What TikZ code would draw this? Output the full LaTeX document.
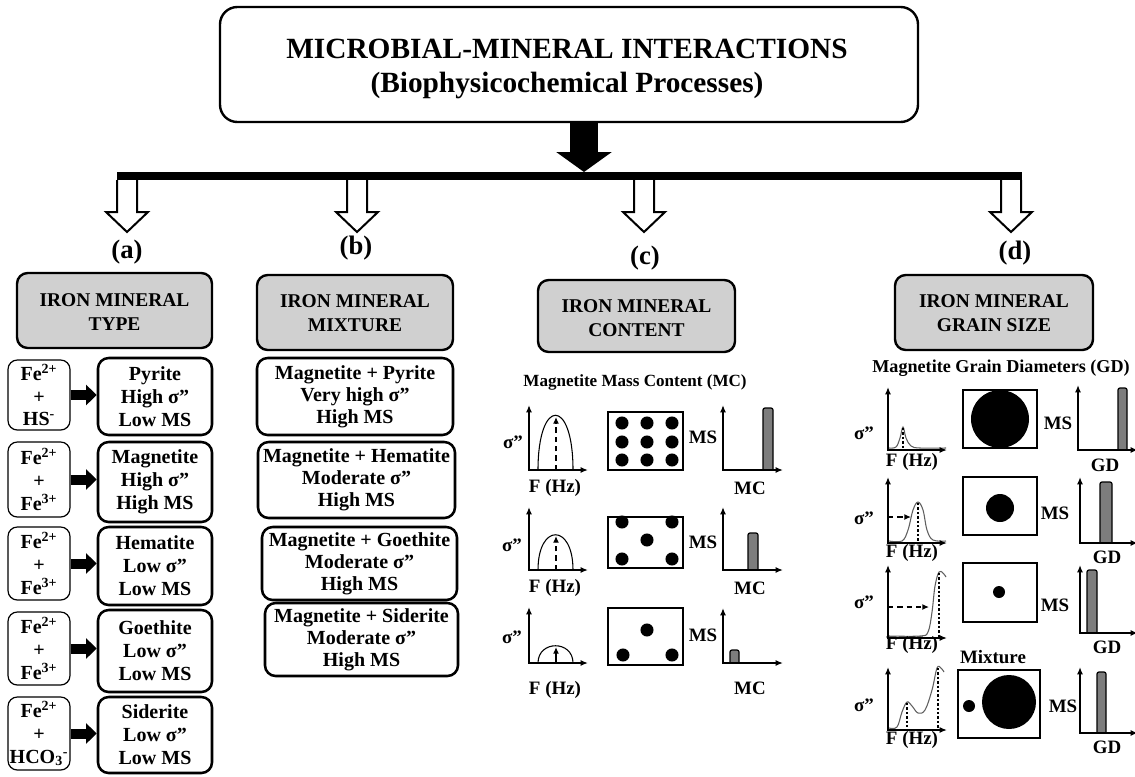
\documentclass[tikz,border=0pt]{standalone}
\usepackage{fontspec}
\setmainfont{Liberation Serif}
\usetikzlibrary{arrows.meta,fit,calc}
\definecolor{hdr}{RGB}{208,208,208}
\definecolor{barg}{RGB}{125,125,125}
\definecolor{crv}{RGB}{95,95,95}
\newcommand\HArrow[1]{\draw[harrow] ([xshift=-7.5pt]#1) -- ++(0pt,-24pt) -- ++(-8.25pt,0pt) -- ++(15.75pt,-15pt) -- ++(15.75pt,15pt) -- ++(-8.25pt,0pt) -- ++(0pt,24pt);}
\newcommand\sig{σ''}
\begin{document}
\begin{tikzpicture}[x=0.75pt,y=-0.75pt,
  every node/.style={font=\bfseries},
  topbox/.style={draw, line width=1.8pt, rounded corners=13pt, inner sep=0pt},
  hdrbox/.style={draw, fill=hdr, line width=1.8pt, rounded corners=8pt, inner sep=0pt},
  resbox/.style={draw, line width=1.9pt, rounded corners=8pt, inner sep=0pt},
  ionbox/.style={draw, line width=0.9pt, rounded corners=7pt, inner sep=0pt},
  mixbox/.style={draw, line width=1.9pt, rounded corners=8pt, inner sep=0pt},
  toptext/.style={font=\bfseries\fontsize{22}{25}\selectfont, align=center, inner sep=0pt},
  hdrtext/.style={font=\bfseries\fontsize{14.6}{18.5}\selectfont, align=center, inner sep=0pt},
  boxtext/.style={font=\bfseries\fontsize{15}{17.2}\selectfont, align=center, inner sep=0pt},
  iontext/.style={font=\bfseries\fontsize{15}{17.2}\selectfont, align=center, inner sep=0pt},
  mixtext/.style={font=\bfseries\fontsize{15}{16.6}\selectfont, align=center, inner sep=0pt},
  panel/.style={font=\bfseries\fontsize{20}{22}\selectfont, inner sep=0pt},
  lbl/.style={font=\bfseries\fontsize{14.2}{16}\selectfont, inner sep=0pt},
  ttl/.style={font=\bfseries\fontsize{12.8}{15}\selectfont, inner sep=0pt},
  axis/.style={line width=1.1pt, {Latex[length=5.5pt,width=4.5pt]}-{Latex[length=5.5pt,width=4.5pt]}},
  harrow/.style={line width=1.5pt, fill=white, line join=miter},
  barrow/.style={line width=7.5pt, -{Triangle[length=8pt,width=15pt]}},
  dotbox/.style={draw, line width=0.9pt, inner sep=0pt},
  dot/.style={fill=black},
  barf/.style={draw, fill=barg, line width=0.9pt, rounded corners=1.5pt},
  crvline/.style={draw=crv, line width=0.8pt},
  dotl/.style={line width=1.8pt, dash pattern=on 1.8pt off 1.5pt},
  dsh/.style={line width=1.2pt, dash pattern=on 4pt off 3pt, -{Latex[length=5pt,width=4.5pt]}}
]
\useasboundingbox (0,0) rectangle (1135,776);

% ---------------- top ----------------
\node[topbox, fit={(220,7) (918,122)}] (top) {};
\node[toptext] (toptxt) at (567,69) {MICROBIAL-MINERAL INTERACTIONS\\(Biophysicochemical Processes)};
\coordinate (barL) at (117,176);
\coordinate (barR) at (1022,176);
\coordinate (barC) at (584,172);
\draw[line width=21pt, -{Triangle[length=15pt,width=41pt]}] (top.south -| barC) -- (barC);
\draw[line width=6pt] (barL) -- (barR);

\coordinate (ha) at (127,180);
\coordinate (hb) at (357,180);
\coordinate (hc) at (644,180);
\coordinate (hd) at (1011,180);
\HArrow{ha}\HArrow{hb}\HArrow{hc}\HArrow{hd}

\node[panel] (pa) at (127,252) {(a)};
\node[panel] (pb) at (356,248) {(b)};
\node[panel] (pc) at (645,258) {(c)};
\node[panel] (pd) at (1015,253) {(d)};

% ---------------- (a) ----------------
\node[hdrbox, fit={(17,273) (212,348)}] (ha1) {};
\node[hdrtext] (ha1t) at (114.5,312) {IRON MINERAL\\TYPE};

\node[ionbox, fit={(8,360) (70,430)}] (l1) {};
\node[ionbox, fit={(8,442) (70,517)}] (l2) {};
\node[ionbox, fit={(8,527) (70,600)}] (l3) {};
\node[ionbox, fit={(8,612) (70,685)}] (l4) {};
\node[ionbox, fit={(8,697) (70,770)}] (l5) {};
\node[iontext] (l1t) at (l1) {Fe\textsuperscript{2+}\\+\\HS\textsuperscript{-}};
\node[iontext] (l2t) at (l2) {Fe\textsuperscript{2+}\\+\\Fe\textsuperscript{3+}};
\node[iontext] (l3t) at (l3) {Fe\textsuperscript{2+}\\+\\Fe\textsuperscript{3+}};
\node[iontext] (l4t) at (l4) {Fe\textsuperscript{2+}\\+\\Fe\textsuperscript{3+}};
\node[iontext] (l5t) at (l5) {Fe\textsuperscript{2+}\\+\\HCO\textsubscript{3}\textsuperscript{-}};

\node[resbox, fit={(98,358) (212,435)}] (r1) {};
\node[resbox, fit={(98,442) (212,522)}] (r2) {};
\node[resbox, fit={(98,527) (212,605)}] (r3) {};
\node[resbox, fit={(98,610) (212,692)}] (r4) {};
\node[resbox, fit={(98,697) (212,773)}] (r5) {};
\node[boxtext] (r1t) at (r1) {Pyrite\\High \sig\\Low MS};
\node[boxtext] (r2t) at (r2) {Magnetite\\High \sig\\High MS};
\node[boxtext] (r3t) at (r3) {Hematite\\Low \sig\\Low MS};
\node[boxtext] (r4t) at (r4) {Goethite\\Low \sig\\Low MS};
\node[boxtext] (r5t) at (r5) {Siderite\\Low \sig\\Low MS};

\foreach \i in {1,...,5}{
  \draw[barrow] (l\i.east) -- (l\i.east -| r\i.west);
}

% ---------------- (b) ----------------
\node[hdrbox, fit={(257,275) (453,350)}] (hb1) {};
\node[hdrtext] (hb1t) at (355,313) {IRON MINERAL\\MIXTURE};
\node[mixbox, fit={(257,358) (453,435)}] (m1) {};
\node[mixbox, fit={(258,442) (455,518)}] (m2) {};
\node[mixbox, fit={(262,527) (457,600)}] (m3) {};
\node[mixbox, fit={(265,603) (458,676)}] (m4) {};
\node[mixtext] (m1t) at (m1) {Magnetite + Pyrite\\Very high \sig\\High MS};
\node[mixtext] (m2t) at (m2) {Magnetite + Hematite\\Moderate \sig\\High MS};
\node[mixtext] (m3t) at (m3) {Magnetite + Goethite\\Moderate \sig\\High MS};
\node[mixtext] (m4t) at (m4) {Magnetite + Siderite\\Moderate \sig\\High MS};

% ---------------- (c) ----------------
\node[hdrbox, fit={(538,280) (735,352)}] (hc1) {};
\node[hdrtext] (hc1t) at (636.5,318) {IRON MINERAL\\CONTENT};
\node[ttl] (ctitle) at (635,382) {Magnetite Mass Content (MC)};

% row 1
\draw[line width=0.8pt] (538,470) .. controls (538,397) and (573,397) .. (573,470);
\draw[dsh, line width=1.4pt] (556,470) -- (556,417);
\draw[axis] (529,405) -- (529,470) -- (588,470);
\node[lbl] (c1s) at (513,442) {\sig};
\node[lbl] (c1f) at (555,488) {F (Hz)};
\node[dotbox, fit={(608,412) (683,470)}] (c1b) {};
\foreach \x in {622,647,672}{\foreach \y in {423,442,460}{\fill[dot] (\x,\y) circle[radius=4.9pt];}}
\node[lbl] (c1m) at (703,437) {MS};
\draw[barf] (763,470) -- (763,408) -- (773,408) -- (773,470);
\draw[axis] (723,405) -- (723,470) -- (783,470);
\node[lbl] (c1c) at (750,488) {MC};

% row 2
\draw[line width=0.8pt] (538,570) .. controls (538,523) and (573,523) .. (573,570);
\draw[dsh] (556,570) -- (556,536);
\draw[axis] (529,507) -- (529,570) -- (588,570);
\node[lbl] (c2s) at (512,545) {\sig};
\node[lbl] (c2f) at (555,588) {F (Hz)};
\node[dotbox, fit={(608,517) (683,568)}] (c2b) {};
\foreach \p in {(622,522),(672,522),(647,540),(622,559),(672,559)}{\fill[dot] \p circle[radius=4.9pt];}
\node[lbl] (c2m) at (703,542) {MS};
\draw[barf] (748,570) -- (748,533) -- (758,533) -- (758,570);
\draw[axis] (723,507) -- (723,570) -- (783,570);
\node[lbl] (c2c) at (750,588) {MC};

% row 3
\draw[line width=0.8pt] (538,663) .. controls (538,640) and (573,640) .. (573,663);
\draw[line width=1.1pt, -{Latex[length=5pt,width=4.5pt]}] (556,663) -- (556,647);
\draw[axis] (529,607) -- (529,663) -- (588,663);
\node[lbl] (c3s) at (512,637) {\sig};
\node[lbl] (c3f) at (555,690) {F (Hz)};
\node[dotbox, fit={(608,608) (683,665)}] (c3b) {};
\foreach \p in {(647,630),(623,655),(672,655)}{\fill[dot] \p circle[radius=4.9pt];}
\node[lbl] (c3m) at (703,635) {MS};
\draw[barf] (730,663) -- (730,650) -- (739,650) -- (739,663);
\draw[axis] (723,608) -- (723,663) -- (783,663);
\node[lbl] (c3c) at (750,688) {MC};

% ---------------- (d) ----------------
\node[hdrbox, fit={(895,275) (1093,350)}] (hd1) {};
\node[hdrtext] (hd1t) at (994,313) {IRON MINERAL\\GRAIN SIZE};
\node[font=\bfseries\fontsize{13.6}{15}\selectfont, inner sep=0pt] (dtitle) at (1001,368) {Magnetite Grain Diameters (GD)};

% row 1
\draw[crvline] plot[smooth, tension=0.6] coordinates {(889,448) (896,447) (900,438) (903,427) (906,438) (911,446) (920,448) (946,448)};
\draw[dotl] (903,428) -- (903,450);
\draw[axis] (888,387) -- (888,450) -- (947,450);
\node[lbl] (d1s) at (864,433) {\sig};
\node[lbl] (d1f) at (912,462) {F (Hz)};
\node[dotbox, fit={(963,390) (1037,448)}] (d1b) {};
\fill[dot] (1000,419) circle[radius=21.75pt];
\node[lbl] (d1m) at (1058,423) {MS};
\draw[barf] (1118,450) -- (1118,388) -- (1127,388) -- (1127,450);
\draw[axis] (1078,385) -- (1078,450) -- (1138,450);
\node[lbl] (d1g) at (1105,465) {GD};

% row 2
\draw[crvline] plot[smooth, tension=0.6] coordinates {(889,541) (902,541) (908,530) (913,510) (918,502) (923,510) (927,530) (933,540) (946,541)};
\draw[dotl] (918,503) -- (918,543);
\draw[dsh] (888,517) -- (911,517);
\draw[axis] (888,477) -- (888,543) -- (947,543);
\node[lbl] (d2s) at (864,518) {\sig};
\node[lbl] (d2f) at (912,553) {F (Hz)};
\node[dotbox, fit={(963,477) (1037,535)}] (d2b) {};
\fill[dot] (1000,508) circle[radius=10.5pt];
\node[lbl] (d2m) at (1055,513) {MS};
\draw[barf] (1100,543) -- (1100,482) -- (1112,482) -- (1112,543);
\draw[axis] (1080,477) -- (1080,543) -- (1138,543);
\node[lbl] (d2g) at (1107,557) {GD};

% row 3
\draw[crvline] plot[smooth, tension=0.6] coordinates {(889,636) (920,636) (928,632) (932,612) (935,586) (939,572) (943,573) (946,577)};
\draw[dotl] (939,573) -- (939,638);
\draw[dsh] (888,607) -- (929,607);
\draw[axis] (888,565) -- (888,638) -- (947,638);
\node[lbl] (d3s) at (864,602) {\sig};
\node[lbl] (d3f) at (912,645) {F (Hz)};
\node[dotbox, fit={(963,563) (1037,622)}] (d3b) {};
\fill[dot] (999,592) circle[radius=4.5pt];
\node[lbl] (d3m) at (1055,605) {MS};
\draw[barf] (1087,633) -- (1087,570) -- (1097,570) -- (1097,633);
\draw[axis] (1080,565) -- (1080,633) -- (1138,633);
\node[lbl] (d3g) at (1107,647) {GD};

\node[lbl] (mix) at (993,657) {Mixture};

% row 4
\draw[crvline] plot[smooth, tension=0.6] coordinates {(889,728) (897,727) (902,712) (907,702) (912,706) (918,713) (925,710) (932,690) (937,668) (941,668) (944,672)};
\draw[dotl] (907,703) -- (907,730);
\draw[dotl] (938,668) -- (938,730);
\draw[axis] (888,667) -- (888,730) -- (947,730);
\node[lbl] (d4s) at (864,705) {\sig};
\node[lbl] (d4f) at (912,740) {F (Hz)};
\node[dotbox, fit={(958,670) (1040,738)}] (d4b) {};
\fill[dot] (969,706) circle[radius=4.5pt];
\fill[dot] (1009,702) circle[radius=20.25pt];
\node[lbl] (d4m) at (1063,706) {MS};
\draw[barf] (1097,733) -- (1097,672) -- (1106,672) -- (1106,733);
\draw[axis] (1080,667) -- (1080,733) -- (1138,733);
\node[lbl] (d4g) at (1107,747) {GD};
\end{tikzpicture}
\end{document}
